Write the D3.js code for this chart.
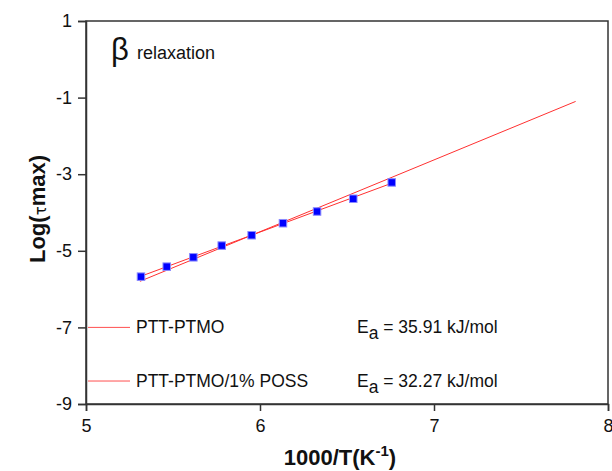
<!DOCTYPE html>
<html>
<head>
<meta charset="utf-8">
<script src="https://cdn.jsdelivr.net/npm/d3@7"></script>
<style>
  body { margin: 0; background: #fff; }
  text { font-family: Arial, "Liberation Sans", sans-serif; fill: #111; }
</style>
</head>
<body>
<div id="chart"></div>
<script>
// measured relaxation times, 1000/T vs log(tau)
var invT = [5.316, 5.464, 5.617, 5.780, 5.952, 6.132, 6.328, 6.536, 6.757];
var logTau = [-5.675, -5.414, -5.170, -4.864, -4.594, -4.280, -3.974, -3.641, -3.215];

// arrhenius fit lines, end points
var fitNames = ['PTT-PTMO', 'PTT-PTMO/1% POSS'];
var fitEa = ['35.91', '32.27'];
var fitX = [[5.31, 7.814], [5.31, 6.76]];
var fitY = [[-5.797, -1.10], [-5.674, -3.23]];

var xTicks = [5, 6, 7, 8];
var yTicks = [1, -1, -3, -5, -7, -9];

var width = 612, height = 471;
var margin = { top: 21, right: 4, bottom: 67, left: 86 };

var svg = d3.select('#chart')
  .append('svg')
  .attr('width', width)
  .attr('height', height);

var x = d3.scaleLinear().domain([5, 8]).range([margin.left, width - margin.right]);
var y = d3.scaleLinear().domain([-9, 1]).range([height - margin.bottom, margin.top]);

// plain hyphen for negatives, like the original
var fmt = function (d) { return String(d); };

// frame
svg.append('rect')
  .attr('x', x(5)).attr('y', y(1))
  .attr('width', x(8) - x(5)).attr('height', y(-9) - y(1))
  .attr('fill', 'none').attr('stroke', '#333').attr('stroke-width', 1.5);

var xAxis = svg.append('g')
  .attr('transform', 'translate(0,' + y(-9) + ')')
  .call(d3.axisBottom(x).tickValues(xTicks).tickSize(7).tickPadding(8).tickFormat(fmt));

var yAxis = svg.append('g')
  .attr('transform', 'translate(' + x(5) + ',0)')
  .call(d3.axisLeft(y).tickValues(yTicks).tickSize(8).tickPadding(6).tickFormat(fmt));

[xAxis, yAxis].forEach(function (g) {
  g.select('.domain').attr('stroke', '#333').attr('stroke-width', 1.5);
  g.selectAll('.tick line').attr('stroke', '#333').attr('stroke-width', 1.5);
  g.selectAll('.tick text').attr('font-size', 18).attr('fill', '#111')
    .attr('font-family', 'Arial, "Liberation Sans", sans-serif');
});

// fit lines
fitX.forEach(function (xs, i) {
  svg.append('line')
    .attr('x1', x(xs[0])).attr('y1', y(fitY[i][0]))
    .attr('x2', x(xs[1])).attr('y2', y(fitY[i][1]))
    .attr('stroke', '#ff3030').attr('stroke-width', 1);
});

// points
var sq = 7.5;
svg.selectAll('rect.pt')
  .data(invT)
  .enter().append('rect')
  .attr('class', 'pt')
  .attr('x', function (d) { return x(d) - sq / 2; })
  .attr('y', function (d, i) { return y(logTau[i]) - sq / 2; })
  .attr('width', sq).attr('height', sq)
  .attr('fill', '#0000ff')
  .attr('stroke', '#8a8aff').attr('stroke-width', 1);

// legend
var legY = [-7, -8.4];
fitNames.forEach(function (name, i) {
  var ly = y(legY[i]);
  svg.append('line')
    .attr('x1', 88).attr('x2', 130)
    .attr('y1', ly).attr('y2', ly)
    .attr('stroke', '#ff5050').attr('stroke-width', 1);
  svg.append('text')
    .attr('x', 136).attr('y', ly + 6)
    .attr('font-size', 17.5)
    .text(name);
  var t = svg.append('text')
    .attr('x', 357).attr('y', ly + 6)
    .attr('font-size', 17.5);
  t.append('tspan').text('E');
  t.append('tspan').attr('dy', 6).text('a');
  t.append('tspan').attr('dy', -6).text(' = ' + fitEa[i] + ' kJ/mol');
});

// annotation
svg.append('text')
  .attr('x', 111).attr('y', 60)
  .attr('font-family', '"Liberation Serif", "DejaVu Serif", serif')
  .attr('font-size', 31)
  .text('\u03b2');
svg.append('text')
  .attr('x', 137).attr('y', 59)
  .attr('font-size', 18)
  .text('relaxation');

// axis titles
var xt = svg.append('text')
  .attr('x', 340).attr('y', 465)
  .attr('text-anchor', 'middle')
  .attr('font-size', 22).attr('font-weight', 'bold');
xt.append('tspan').text('1000/T(K');
xt.append('tspan').attr('dy', -9).attr('font-size', 15).text('-1');
xt.append('tspan').attr('dy', 9).text(')');

var yt = svg.append('text')
  .attr('transform', 'translate(45,' + 209 + ') rotate(-90)')
  .attr('text-anchor', 'middle')
  .attr('font-size', 22).attr('font-weight', 'bold');
yt.append('tspan').text('Log(');
yt.append('tspan').attr('font-size', 15).attr('font-weight', 'normal')
  .attr('font-family', '"DejaVu Sans", sans-serif').attr('dy', 1).text('\u03c4');
yt.append('tspan').attr('dy', -1).text('max)');
</script>
</body>
</html>
